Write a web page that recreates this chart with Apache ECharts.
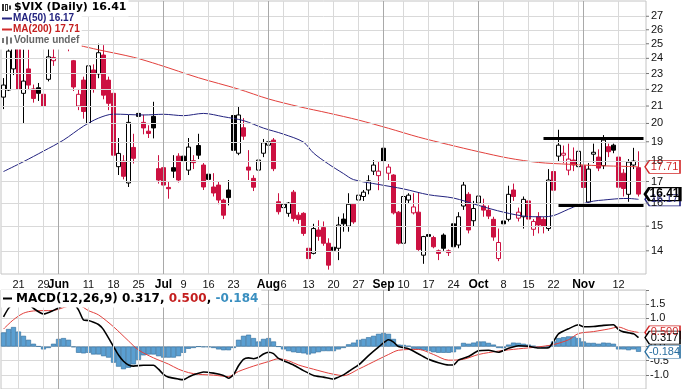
<!DOCTYPE html>
<html><head><meta charset="utf-8">
<script src="https://cdn.jsdelivr.net/npm/echarts@6/dist/echarts.min.js"></script>
<style>html,body{margin:0;padding:0;background:#fff}#c{width:682px;height:389px}</style>
</head><body><div id="c"></div>
<script>
// ---------- DATA ----------
const dates = ['05-16','05-17','05-18','05-21','05-22','05-23','05-24','05-25','05-29','05-30','05-31',
'06-01','06-04','06-05','06-06','06-07','06-08','06-11','06-12','06-13','06-14','06-15','06-18','06-19','06-20','06-21','06-22','06-25','06-26','06-27','06-28','06-29',
'07-02','07-03','07-05','07-06','07-09','07-10','07-11','07-12','07-13','07-16','07-17','07-18','07-19','07-20','07-23','07-24','07-25','07-26','07-27','07-30','07-31',
'08-01','08-02','08-03','08-06','08-07','08-08','08-09','08-10','08-13','08-14','08-15','08-16','08-17','08-20','08-21','08-22','08-23','08-24','08-27','08-28','08-29','08-30','08-31',
'09-04','09-05','09-06','09-07','09-10','09-11','09-12','09-13','09-14','09-17','09-18','09-19','09-20','09-21','09-24','09-25','09-26','09-27','09-28',
'10-01','10-02','10-03','10-04','10-05','10-08','10-09','10-10','10-11','10-12','10-15','10-16','10-17','10-18','10-19','10-22','10-23','10-24','10-25','10-26','10-31',
'11-01','11-02','11-05','11-06','11-07','11-08','11-09','11-12','11-13','11-14','11-15','11-16','11-19'];

const opens = [21.53,21.96,23.3,25.3,21.76,23.3,22.03,22.1,21.7,22.63,
23.84,24.9,26.5,25.9,23.84,21.0,22.58,20.0,23.23,22.98,
24.22,22.58,21.76,17.72,18.0,16.93,18.7,20.57,20.06,19.57,
20.4,17.62,17.67,16.72,17.67,18.25,18.25,17.55,18.02,18.8,
17.8,17.35,16.74,16.83,16.14,16.6,20.45,18.4,19.76,17.7,
17.15,17.55,18.4,18.82,19.09,16.06,15.8,15.55,16.5,15.47,
15.55,14.1,13.9,14.84,14.94,14.3,14.14,14.1,15.3,15.0,
15.95,16.14,16.3,16.6,17.5,17.28,18.66,17.4,17.31,15.6,
14.3,16.14,15.57,15.6,13.83,14.65,14.53,14.0,14.63,14.0,
15.1,14.23,15.87,16.4,15.23,16.0,15.87,15.69,15.29,13.7,
15.22,15.29,16.6,15.34,15.4,16.1,14.87,15.4,15.29,14.9,
17.48,18.25,18.3,17.55,18.05,17.72,17.77,16.05,18.35,18.2,
17.77,18.74,18.82,18.2,17.4,16.4,17.8,17.67];
const closes = [22.27,24.49,25.10,22.01,22.52,22.27,21.45,21.76,21.0,24.1,
24.06,26.66,26.12,24.75,22.15,21.7,20.68,23.5,22.03,24.38,
21.65,21.16,18.30,18.39,17.25,20.06,18.14,20.4,19.75,19.45,
19.75,17.07,16.83,16.66,17.5,17.07,18.0,18.72,17.92,18.3,
16.74,17.1,16.46,16.14,15.47,16.25,18.55,20.48,19.3,17.55,
16.73,18.05,18.95,19.0,17.62,15.62,15.95,16.0,15.33,15.28,
14.7,13.7,14.9,14.58,14.3,13.45,14.02,15.05,15.1,15.95,
15.18,16.36,16.5,17.03,17.8,17.5,18.0,17.7,15.57,14.3,
16.3,16.36,15.83,14.05,14.57,14.58,14.16,13.9,14.1,13.93,
14.16,15.4,16.83,14.84,15.76,16.32,15.69,15.43,14.55,14.33,
15.1,16.4,16.3,15.6,16.17,15.3,15.2,15.05,15.0,17.07,
16.59,18.82,18.4,18.1,17.8,18.5,16.72,17.6,18.45,17.65,
19.09,18.48,18.56,16.73,16.67,17.95,18.0,16.41];
const lows = [20.82,21.9,22.9,21.9,20.0,21.96,21.2,21.3,20.96,22.5,
23.5,24.3,25.5,24.48,21.9,20.76,20.27,19.63,21.8,22.7,
21.4,20.76,18.2,17.31,17.1,16.74,17.88,19.85,19.4,19.2,
19.18,16.9,16.28,16.2,17.17,16.95,17.8,17.31,17.6,18.1,
16.6,16.9,16.3,15.95,15.3,15.9,18.4,18.3,19.1,17.07,
16.55,17.23,18.2,18.25,17.5,15.5,15.6,15.4,15.2,15.1,
14.6,13.67,13.86,14.4,14.2,13.28,13.38,13.64,14.77,14.77,
15.1,15.76,16.1,16.4,17.31,16.59,17.85,17.07,15.5,14.25,
13.96,16.0,15.5,14.0,13.5,14.2,14.1,13.64,14.0,13.8,
14.0,14.1,15.7,14.7,15.0,15.2,15.4,15.3,14.4,13.6,
14.9,15.2,16.1,15.2,14.9,15.0,14.6,14.7,14.7,14.8,
16.5,18.0,17.9,17.3,17.5,17.5,16.6,15.9,17.9,17.5,
17.6,18.2,18.4,16.6,16.3,16.06,17.6,16.3];
const highs = [22.71,25.3,26.5,25.5,24.61,24.6,22.3,22.4,22.03,25.2,
25.4,27.0,27.4,26.3,23.89,22.03,22.8,23.7,23.6,25.0,
24.9,22.8,21.9,19.2,18.3,20.48,19.43,21.35,20.5,19.9,
21.25,18.3,17.9,17.0,18.3,18.4,18.9,19.2,18.3,19.43,
17.9,17.75,17.4,17.0,16.2,17.07,20.57,21.0,20.3,18.56,
17.3,18.56,19.15,19.2,19.2,16.45,16.1,16.05,16.6,15.6,
15.6,14.23,15.1,15.25,15.2,14.5,14.43,15.4,15.55,16.45,
16.0,16.45,16.6,17.3,18.05,18.0,19.0,17.85,17.35,15.65,
16.35,16.45,16.45,16.5,14.6,14.9,14.6,14.05,14.7,14.05,
15.2,15.6,17.0,16.5,16.1,16.6,16.2,15.9,15.4,14.9,
15.3,16.8,16.9,15.8,16.3,16.2,15.3,15.6,15.4,17.6,
17.9,19.65,18.8,18.9,18.7,19.0,17.9,17.9,18.9,18.6,
19.36,18.9,18.9,18.3,17.6,18.1,18.68,18.5];

// moving averages at these day indices
const ma50At = [0,4,8,12,16,19,22,28,32,36,40,44,48,52,56,60,62,65,68,70,75,80,85,90,95,100,105,108,110,113,115,118,120,123,125,127];
const ma50   = [17.48,17.97,18.51,19.09,19.85,20.3,20.53,20.48,20.52,20.44,20.57,20.38,20.16,19.74,19.41,18.98,18.41,17.85,17.38,17.09,16.86,16.65,16.38,16.23,15.9,15.6,15.41,15.4,15.45,15.73,15.91,16.09,16.14,16.2,16.21,16.17];
const ma200At = [0,8,15,19,26,31,39,47,53,59,65,71,77,83,89,95,101,107,113,119,125,127];
const ma200   = [25.6,25.2,24.88,24.58,24.07,23.58,22.73,22.02,21.42,20.97,20.59,20.19,19.73,19.25,18.85,18.48,18.15,17.93,17.84,17.77,17.73,17.71];

// MACD(12,26,9)
const macdAt = [0,1,2,4,6,8,10,12,13,14,15,16,17,18,19,20,22,23,24,25,26,28,30,31,32,33,35,36,37,38,40,42,44,45,46,47,48,49,50,51,52,53,54,55,56,58,60,62,64,66,67,68,69,71,73,75,77,78,79,81,83,85,87,89,90,91,93,95,97,99,101,103,105,107,109,110,111,113,115,116,118,120,122,123,124,126,127];
const macd = [1.05,1.35,1.52,1.65,1.35,1.15,1.28,1.46,1.58,1.52,1.3,0.94,0.92,0.86,0.78,0.6,0.0,-0.3,-0.52,-0.65,
-0.69,-0.66,-0.66,-0.8,-0.98,-1.08,-1.15,-1.17,-1.08,-1.0,-0.9,-0.94,-1.02,-1.12,-1.0,-0.68,-0.45,-0.4,-0.43,-0.38,
-0.26,-0.2,-0.25,-0.42,-0.5,-0.65,-0.85,-1.02,-1.08,-1.15,-1.08,-1.0,-0.88,-0.65,-0.32,-0.02,0.24,0.16,0.0,-0.08,
-0.26,-0.45,-0.57,-0.65,-0.65,-0.48,-0.35,-0.15,-0.13,-0.2,-0.06,0.03,0.01,-0.05,-0.04,0.18,0.45,0.63,0.77,0.7,
0.71,0.75,0.77,0.6,0.52,0.45,0.317];
const signalAt = [0,2,4,6,10,13,15,17,19,22,25,27,30,33,35,37,39,42,45,47,50,53,55,57,59,62,65,67,68,71,75,77,79,83,86,89,92,95,99,103,107,110,113,115,118,121,123,125,127];
const signal = [0.62,0.95,1.18,1.26,1.28,1.43,1.46,1.27,1.12,0.7,0.2,-0.12,-0.4,-0.62,-0.8,-0.92,-0.98,-1.01,-1.06,-0.88,
-0.69,-0.53,-0.43,-0.5,-0.65,-0.8,-0.94,-1.01,-1.03,-0.8,-0.45,-0.28,-0.13,-0.1,-0.28,-0.48,-0.45,-0.28,-0.16,-0.08,
-0.01,0.07,0.24,0.46,0.53,0.62,0.69,0.57,0.5];
const hist = [0.5,0.62,0.69,0.53,0.38,0.24,0.1,0.01,-0.1,-0.05,
0.1,0.27,0.3,0.24,-0.02,-0.22,-0.24,-0.22,-0.28,-0.28,
-0.34,-0.39,-0.57,-0.71,-0.8,-0.75,-0.63,-0.47,-0.31,-0.28,
-0.28,-0.34,-0.39,-0.39,-0.39,-0.34,-0.22,-0.08,-0.05,0.0,
-0.02,-0.02,-0.05,-0.1,-0.13,-0.13,-0.05,0.24,0.38,0.42,
0.3,0.18,0.27,0.3,0.18,0.0,-0.1,-0.16,-0.2,-0.22,
-0.24,-0.28,-0.24,-0.2,-0.16,-0.16,-0.16,-0.1,-0.05,0.08,
0.14,0.24,0.27,0.33,0.38,0.45,0.48,0.45,0.27,0.07,
0.06,0.03,-0.08,-0.1,-0.13,-0.16,-0.2,-0.22,-0.22,-0.22,
-0.2,-0.1,0.13,0.1,0.14,0.18,0.18,0.13,0.07,-0.05,
-0.06,0.07,0.14,0.13,0.1,0.07,0.03,-0.02,-0.05,0.03,
0.18,0.3,0.33,0.36,0.36,0.3,0.18,0.13,0.13,0.1,
0.14,0.13,0.1,-0.1,-0.1,-0.13,-0.1,-0.184];

// axis ticks
const priceTicks = [14,15,16,17,18,19,20,21,22,23,24,25,26,27];
const tickDates  = ['05-21','05-29','06-01','06-11','06-18','06-25','07-02','07-09','07-16','07-23','08-01','08-06','08-13','08-20','08-27','09-04','09-10','09-17','09-24','10-01','10-08','10-15','10-22','11-01','11-12'];
const tickLabels = ['21','29','Jun','11','18','25','Jul','9','16','23','Aug','6','13','20','27','Sep','10','17','24','Oct','8','15','22','Nov','12'];
const monthStarts = ['06-01','07-02','08-01','09-04','10-01','11-01'];
const extraWeekLines = ['07-30','10-31'];

// drawn trend lines (support / resistance)
const trendStart = ['10-18','10-23'];
const trendEnd   = ['11-19','11-19'];
const trendLevel = [19.21,15.91];

// ---------- CHART ----------
const RED = '#cc1141', BLACK = '#000', NAVY = '#23237f', MARED = '#e2403c';
const FONT = 'Liberation Sans', VFONT = 'DejaVu Sans';
const last = dates[closes.length - 1];
const lastOf = a => a[a.length - 1];

const candleData = opens.map((o, i) => {
  const c = closes[i];
  const gain = i === 0 || c >= closes[i - 1];
  const col = gain ? BLACK : RED;
  const fill = c >= o ? '#fff' : col;
  return { value: [o, c, lows[i], highs[i]], itemStyle: { color: fill, color0: fill, borderColor: col, borderColor0: col } };
});

const tickMap = {};
tickDates.forEach((d, k) => tickMap[d] = tickLabels[k]);
const monthSet = new Set(monthStarts);
const vLines = tickDates.concat(extraWeekLines).map(d => ({
  xAxis: d, label: { show: false },
  lineStyle: { color: monthSet.has(d) ? '#a9a9a9' : '#d9d9d9', width: 1, type: 'solid' }
}));

const pairs = (at, vals) => at.map((d, k) => [dates[d], vals[k]]);

const tagPath = 'path://M0,6L5,0L40,0L40,12L5,12Z';
function tag(xName, val, text, color, opts) {
  opts = opts || {};
  return {
    coord: [xName, val], symbol: tagPath, symbolSize: [35, opts.h || 13], symbolOffset: [24, 0],
    itemStyle: { color: '#fff', borderColor: color, borderWidth: opts.bw || 1 },
    label: { show: true, position: 'inside', offset: [2, 0], formatter: text, color: opts.textColor || color,
      fontSize: opts.fs || 11, fontWeight: opts.bold ? 'bold' : 'normal', fontFamily: FONT }
  };
}

const legendRow1 = '{c1|}{g|}{c2|}{g|}{c3|}{t1|$VIX (Daily) ' + lastOf(closes).toFixed(2) + '}';
const legendRows = [
  '{dn|}{t2|MA(50) ' + lastOf(ma50).toFixed(2) + '}',
  '{dr|}{t3|MA(200) ' + lastOf(ma200).toFixed(2) + '}',
  '{v1|}{g|}{v2|}{g|}{v3|}{t4|Volume undef}'
].join('\n');

const macdText = '{dk|}{a0|MACD(12,26,9) ' + lastOf(macd).toFixed(3) + ', }{b|' + lastOf(signal).toFixed(3) +
  '}{a|, }{c|' + lastOf(hist).toFixed(3) + '}';

const legendRich = {
  c1: { width: 2, height: 7, backgroundColor: '#333', verticalAlign: 'middle' },
  c2: { width: 1, height: 5, backgroundColor: '#fff', borderColor: '#333', borderWidth: 1, verticalAlign: 'middle' },
  c3: { width: 2, height: 4, backgroundColor: '#333', verticalAlign: 'middle' },
  g: { width: 2 },
  t1: { fontFamily: VFONT, fontSize: 11, color: '#000', padding: [0, 0, 0, 3], lineHeight: 11 },
  dn: { width: 10, height: 2, backgroundColor: NAVY, verticalAlign: 'middle' },
  t2: { fontFamily: FONT, fontSize: 10, color: NAVY, padding: [0, 0, 0, 1], lineHeight: 11 },
  dr: { width: 10, height: 2, backgroundColor: '#d22a2a', verticalAlign: 'middle' },
  t3: { fontFamily: FONT, fontSize: 10, color: '#c41f1f', padding: [0, 0, 0, 1], lineHeight: 11 },
  v1: { width: 2, height: 5, backgroundColor: '#777', verticalAlign: 'middle' },
  v2: { width: 2, height: 8, backgroundColor: '#777', verticalAlign: 'middle' },
  v3: { width: 2, height: 6, backgroundColor: '#777', verticalAlign: 'middle' },
  t4: { fontFamily: FONT, fontSize: 10, color: '#666', padding: [0, 0, 0, 2], lineHeight: 11 }
};

const option = {
  animation: false,
  backgroundColor: '#fff',
  title: [
    { left: 0, top: 1, padding: [1, 2, 0, 2], backgroundColor: '#fff', z: 20, text: legendRow1,
      textStyle: { lineHeight: 11, rich: legendRich } },
    { left: 0, top: 13, padding: [0, 2, 0, 2], backgroundColor: '#fff', z: 20, text: legendRows,
      textStyle: { lineHeight: 11, rich: legendRich } },
    { left: 1, top: 292, padding: [0, 3, 0, 2], backgroundColor: '#fff', z: 20, text: macdText,
      textStyle: { lineHeight: 13, rich: {
        dk: { width: 9, height: 2, backgroundColor: '#000', verticalAlign: 'middle' },
        a0: { fontFamily: VFONT, fontSize: 12, color: '#000', padding: [0, 0, 0, 4], lineHeight: 13 },
        a: { fontFamily: VFONT, fontSize: 12, color: '#000', lineHeight: 13 },
        b: { fontFamily: VFONT, fontSize: 12, color: '#c41f1f', lineHeight: 13 },
        c: { fontFamily: VFONT, fontSize: 12, color: '#3a8fc0', lineHeight: 13 }
      } } }
  ],
  grid: [
    { left: 1, top: 1, width: 645, height: 273, show: true, borderColor: '#c4c4c4', borderWidth: 1 },
    { left: 1, top: 290, width: 645, height: 100, show: true, borderColor: '#c4c4c4', borderWidth: 1 }
  ],
  xAxis: [
    { type: 'category', gridIndex: 0, data: dates, boundaryGap: true,
      axisLine: { show: false }, axisTick: { show: false }, splitLine: { show: false },
      axisLabel: { interval: (idx, val) => tickMap[val] !== undefined, margin: 5,
        formatter: (val) => monthSet.has(val) ? '{m|' + tickMap[val] + '}' : (tickMap[val] || ''),
        color: '#111', fontSize: 11, fontFamily: FONT,
        rich: { m: { fontWeight: 'bold', fontSize: 12, fontFamily: FONT, color: '#000' } } } },
    { type: 'category', gridIndex: 1, data: dates, boundaryGap: true,
      axisLine: { show: false }, axisTick: { show: false }, axisLabel: { show: false }, splitLine: { show: false } }
  ],
  yAxis: [
    { type: 'log', gridIndex: 0, min: 13.12, max: 28.18, position: 'right',
      axisLine: { show: false }, axisTick: { show: false }, axisLabel: { show: false }, splitLine: { show: false } },
    { type: 'value', gridIndex: 1, min: -1.5, max: 2, interval: 0.5, position: 'right',
      axisLine: { show: false }, axisTick: { show: true, length: 3, lineStyle: { color: '#777' } },
      axisLabel: { margin: 4, color: '#111', fontSize: 11, fontFamily: FONT,
        formatter: v => (v >= 2 || v <= -1.5) ? '' : v.toFixed(1) },
      splitLine: { show: true, lineStyle: { color: '#d9d9d9' } } }
  ],
  series: [
    { // grid lines + price tick labels
      type: 'line', xAxisIndex: 0, yAxisIndex: 0, data: [], z: 1, silent: true,
      markLine: { silent: true, symbol: 'none', animation: false,
        data: priceTicks.map(v => ({ yAxis: v,
          lineStyle: { color: '#d9d9d9', width: 1, type: 'solid' },
          label: { show: true, position: 'end', distance: 0, formatter: '{t|}{v|' + v + '}',
            color: '#111', fontSize: 11, fontFamily: FONT,
            rich: { t: { width: 3, height: 1, backgroundColor: '#777', verticalAlign: 'middle' },
                    v: { padding: [0, 0, 0, 2], fontSize: 11, fontFamily: FONT, color: '#111' } } } })).concat(vLines) }
    },
    { type: 'line', xAxisIndex: 1, yAxisIndex: 1, data: [], z: 1, silent: true,
      markLine: { silent: true, symbol: 'none', animation: false, data: vLines } },
    { type: 'candlestick', name: '$VIX', xAxisIndex: 0, yAxisIndex: 0, data: candleData, barWidth: 3.8, z: 3,
      itemStyle: { borderWidth: 1 } },
    { type: 'line', name: 'MA(50)', xAxisIndex: 0, yAxisIndex: 0, data: pairs(ma50At, ma50), symbol: 'none', smooth: 0.3,
      lineStyle: { color: NAVY, width: 1 }, z: 4 },
    { type: 'line', name: 'MA(200)', xAxisIndex: 0, yAxisIndex: 0, data: pairs(ma200At, ma200), symbol: 'none', smooth: 0.3,
      lineStyle: { color: MARED, width: 1 }, z: 4 },
    { type: 'line', xAxisIndex: 0, yAxisIndex: 0, data: [], z: 5, silent: true,
      markLine: { silent: true, symbol: 'none', animation: false, label: { show: false },
        lineStyle: { color: '#000', width: 3, type: 'solid' },
        data: trendLevel.map((v, k) => [{ coord: [trendStart[k], v] }, { coord: [trendEnd[k], v] }]) } },
    { type: 'line', xAxisIndex: 0, yAxisIndex: 0, data: [], z: 6, silent: true,
      markPoint: { silent: true, animation: false, data: [
        tag(last, lastOf(ma200), lastOf(ma200).toFixed(2), '#d22a2a'),
        tag(last, lastOf(ma50), lastOf(ma50).toFixed(2), NAVY),
        tag(last, lastOf(closes), lastOf(closes).toFixed(2), '#000', { bw: 2, bold: true, fs: 12, h: 13 })
      ] } },
    { type: 'bar', xAxisIndex: 1, yAxisIndex: 1, data: hist, barCategoryGap: '0%', z: 2,
      itemStyle: { color: '#5a9fd2', borderColor: '#2d6a99', borderWidth: 0.6 } },
    { type: 'line', xAxisIndex: 1, yAxisIndex: 1, data: pairs(signalAt, signal), symbol: 'none', smooth: 0.3,
      lineStyle: { color: MARED, width: 1 }, z: 3 },
    { type: 'line', xAxisIndex: 1, yAxisIndex: 1, data: pairs(macdAt, macd), symbol: 'none', smooth: 0.2,
      lineStyle: { color: '#000', width: 1.6 }, z: 4 },
    { type: 'line', xAxisIndex: 1, yAxisIndex: 1, data: [], z: 6, silent: true,
      markPoint: { silent: true, animation: false, data: [
        tag(last, lastOf(signal), lastOf(signal).toFixed(3), '#d22a2a'),
        tag(last, lastOf(macd), lastOf(macd).toFixed(3), '#000'),
        tag(last, lastOf(hist), lastOf(hist).toFixed(3), '#2a6fa0')
      ] } }
  ]
};

const chart = echarts.init(document.getElementById('c'), null, { renderer: 'canvas', width: 682, height: 389 });
chart.setOption(option);
</script>
</body></html>
